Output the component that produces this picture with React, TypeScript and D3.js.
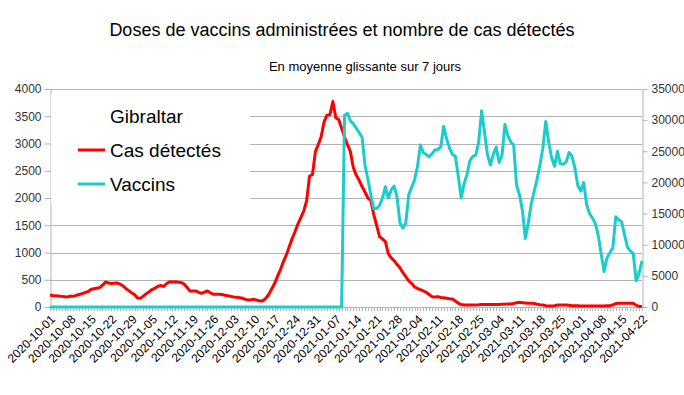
import React, { useEffect, useRef } from 'react';
import * as d3 from 'd3';

// Catégories : un point par jour, du 2020-10-01 au 2021-04-22
const startDate = new Date(2020, 9, 1);
const endDate = new Date(2021, 3, 23);
const dates: string[] = d3.timeDay.range(startDate, endDate).map(d3.timeFormat('%Y-%m-%d'));

// Étiquettes de l'axe X (une par semaine)
const tickLabels: string[] = dates.filter((_, i) => i % 7 === 0);

const caseTicks = [0, 500, 1000, 1500, 2000, 2500, 3000, 3500, 4000];
const vaccTicks = [0, 5000, 10000, 15000, 20000, 25000, 30000, 35000];

// Cas détectés (moyenne glissante 7 jours)
const casDetectes = [
  215, 210, 207, 200, 195, 190, 183, 200, 195, 215,
  230, 245, 265, 281, 320, 335, 345, 355, 400, 460,
  440, 430, 435, 440, 420, 390, 340, 300, 260, 230,
  165, 159, 200, 245, 280, 320, 345, 380, 395, 375,
  430, 465, 460, 465, 455, 450, 420, 360, 295, 295,
  294, 270, 250, 275, 294, 260, 235, 233, 233, 228,
  215, 207, 195, 183, 178, 171, 160, 140, 128, 135,
  141, 125, 112, 115, 160, 230, 330, 430, 560, 680,
  830, 950, 1100, 1250, 1380, 1520, 1640, 1760, 1950, 2400,
  2430, 2850, 2980, 3130, 3400, 3520, 3530, 3770, 3470, 3440,
  3280, 3120, 2980, 2850, 2560, 2420, 2330, 2210, 2110, 2000,
  1960, 1700, 1500, 1290, 1250, 1200, 980, 900, 850, 780,
  720, 630, 560, 480, 435, 370, 340, 320, 295, 270,
  230, 190, 185, 190, 175, 170, 160, 150, 147, 110,
  70, 45, 37, 37, 37, 37, 37, 40, 45, 46,
  45, 45, 45, 45, 48, 50, 52, 55, 55, 65,
  80, 86, 80, 75, 70, 67, 65, 50, 40, 37,
  25, 18, 18, 25, 35, 37, 37, 35, 30, 25,
  25, 25, 20, 18, 18, 18, 18, 18, 18, 18,
  20, 25, 25, 35, 65, 67, 67, 67, 67, 67,
  67, 30, 15, 8,
];

// Doses de vaccins administrées (moyenne glissante 7 jours)
const vaccins = [
  0, 0, 0, 0, 0, 0, 0, 0, 0, 0,
  0, 0, 0, 0, 0, 0, 0, 0, 0, 0,
  0, 0, 0, 0, 0, 0, 0, 0, 0, 0,
  0, 0, 0, 0, 0, 0, 0, 0, 0, 0,
  0, 0, 0, 0, 0, 0, 0, 0, 0, 0,
  0, 0, 0, 0, 0, 0, 0, 0, 0, 0,
  0, 0, 0, 0, 0, 0, 0, 0, 0, 0,
  0, 0, 0, 0, 0, 0, 0, 0, 0, 0,
  0, 0, 0, 0, 0, 0, 0, 0, 0, 0,
  0, 0, 0, 0, 0, 0, 0, 0, 0, 0,
  0, 30800, 31100, 29900, 29400, 28700, 28000, 27300, 22800, 20600,
  18000, 15800, 15800, 16300, 17500, 19300, 17500, 18800, 19400, 17700,
  13500, 12700, 13500, 18000, 19200, 20400, 22500, 26000, 24800, 24500,
  24100, 24600, 25200, 25300, 25700, 29000, 27000, 25500, 24500, 24200,
  21000, 17500, 19800, 21300, 23500, 24200, 24400, 26500, 31500, 28000,
  24500, 22800, 24500, 25700, 23200, 24400, 29300, 27500, 26500, 26000,
  19500, 18000, 15500, 11000, 13500, 16500, 18500, 20500, 22800, 25500,
  29800, 26500, 24000, 22600, 25000, 23000, 22900, 23300, 24800, 24200,
  22300, 19500, 18600, 20000, 16500, 15000, 14300, 13400, 11500, 8500,
  5700, 7900, 8700, 9500, 14500, 14000, 13700, 11600, 9600, 9000,
  8600, 4200, 5400, 7400,
];

const W = 684;
const H = 395;
const FONT = '"Liberation Sans", Arial, sans-serif';
const RED = '#ff0000';
const CYAN = '#1ccbcc';
const GRID = '#b3b3b3';

const App: React.FC = () => {
  const svgRef = useRef<SVGSVGElement>(null);

  useEffect(() => {
    if (!svgRef.current) return;
    const svg = d3.select(svgRef.current);
    svg.selectAll('*').remove();

    const margin = { top: 89, right: 42, bottom: 88, left: 50 };
    const x = d3.scalePoint<string>().domain(dates).range([margin.left, W - margin.right]);
    const yCas = d3.scaleLinear().domain([0, 4000]).range([H - margin.bottom, margin.top]);
    const yVac = d3.scaleLinear().domain([0, 35000]).range([H - margin.bottom, margin.top]);
    const x0 = margin.left;
    const x1 = W - margin.right;
    const yBase = H - margin.bottom;

    svg.append('rect').attr('width', W).attr('height', H).attr('fill', '#fff');

    // Titres
    svg.append('text')
      .attr('x', 342).attr('y', 36)
      .attr('text-anchor', 'middle')
      .attr('font-size', 18)
      .attr('fill', '#000')
      .text('Doses de vaccins administrées et nombre de cas détectés');
    svg.append('text')
      .attr('x', 365).attr('y', 71)
      .attr('text-anchor', 'middle')
      .attr('font-size', 13)
      .attr('fill', '#000')
      .text('En moyenne glissante sur 7 jours');

    // Grille
    svg.append('g')
      .selectAll('line')
      .data(caseTicks)
      .join('line')
      .attr('x1', x0).attr('x2', x1)
      .attr('y1', d => Math.round(yCas(d)) + 0.5)
      .attr('y2', d => Math.round(yCas(d)) + 0.5)
      .attr('stroke', GRID);

    // Axe gauche
    const left = svg.append('g')
      .attr('transform', `translate(${x0 + 0.5},0)`)
      .call(d3.axisLeft(yCas).tickValues(caseTicks).tickFormat(d3.format('d')).tickSize(6).tickPadding(3).tickSizeOuter(0));
    left.select('.domain').attr('stroke', GRID);
    left.selectAll('.tick line').attr('stroke', GRID);
    left.selectAll('.tick text').attr('font-size', 12).attr('font-family', FONT).attr('fill', '#333');

    // Axe droit
    const right = svg.append('g')
      .attr('transform', `translate(${x1 + 0.5},0)`)
      .call(d3.axisRight(yVac).tickValues(vaccTicks).tickFormat(d3.format('d')).tickSize(5).tickPadding(4).tickSizeOuter(0));
    right.select('.domain').attr('stroke', GRID);
    right.selectAll('.tick line').attr('stroke', GRID);
    right.selectAll('.tick text').attr('font-size', 12).attr('font-family', FONT).attr('fill', '#333');

    // Axe X : petites graduations quotidiennes + étiquettes hebdomadaires
    const bottom = svg.append('g');
    bottom.append('line')
      .attr('x1', x0).attr('x2', x1)
      .attr('y1', yBase + 0.5).attr('y2', yBase + 0.5)
      .attr('stroke', GRID);
    bottom.selectAll('line.minor')
      .data(dates)
      .join('line')
      .attr('class', 'minor')
      .attr('x1', d => Math.round(x(d)!) + 0.5)
      .attr('x2', d => Math.round(x(d)!) + 0.5)
      .attr('y1', yBase).attr('y2', yBase + 4)
      .attr('stroke', GRID);
    bottom.selectAll('text')
      .data(tickLabels)
      .join('text')
      .attr('transform', d => `translate(${x(d)! + 3},${yBase + 10}) rotate(-45)`)
      .attr('text-anchor', 'end')
      .attr('dy', '0.35em')
      .attr('font-size', 12)
      .attr('fill', '#000')
      .text(d => d);

    // Courbes
    const lineCas = d3.line<number>()
      .x((_, i) => x(dates[i])!)
      .y(d => yCas(d));
    const lineVac = d3.line<number>()
      .x((_, i) => x(dates[i])!)
      .y(d => yVac(d));

    svg.append('path')
      .datum(casDetectes)
      .attr('d', lineCas)
      .attr('fill', 'none')
      .attr('stroke', RED)
      .attr('stroke-width', 3)
      .attr('stroke-linejoin', 'round');
    svg.append('path')
      .datum(vaccins)
      .attr('d', lineVac)
      .attr('fill', 'none')
      .attr('stroke', CYAN)
      .attr('stroke-width', 3)
      .attr('stroke-linejoin', 'round');

    // Légende
    const legend = svg.append('g');
    legend.append('rect')
      .attr('x', x0 + 1).attr('y', 94)
      .attr('width', 199).attr('height', 110)
      .attr('fill', '#fff');
    legend.append('text')
      .attr('x', 110).attr('y', 123)
      .attr('font-size', 19).attr('fill', '#000')
      .text('Gibraltar');
    const items = [
      { label: 'Cas détectés', color: RED, y: 157 },
      { label: 'Vaccins', color: CYAN, y: 191 },
    ];
    items.forEach(it => {
      legend.append('line')
        .attr('x1', 78).attr('x2', 105)
        .attr('y1', it.y - 7).attr('y2', it.y - 7)
        .attr('stroke', it.color).attr('stroke-width', 3);
      legend.append('text')
        .attr('x', 110).attr('y', it.y)
        .attr('font-size', 19).attr('fill', '#000')
        .text(it.label);
    });
  }, []);

  return (
    <svg
      ref={svgRef}
      width={W}
      height={H}
      style={{ position: 'absolute', left: 0, top: 0, fontFamily: FONT }}
    />
  );
};

export default App;
